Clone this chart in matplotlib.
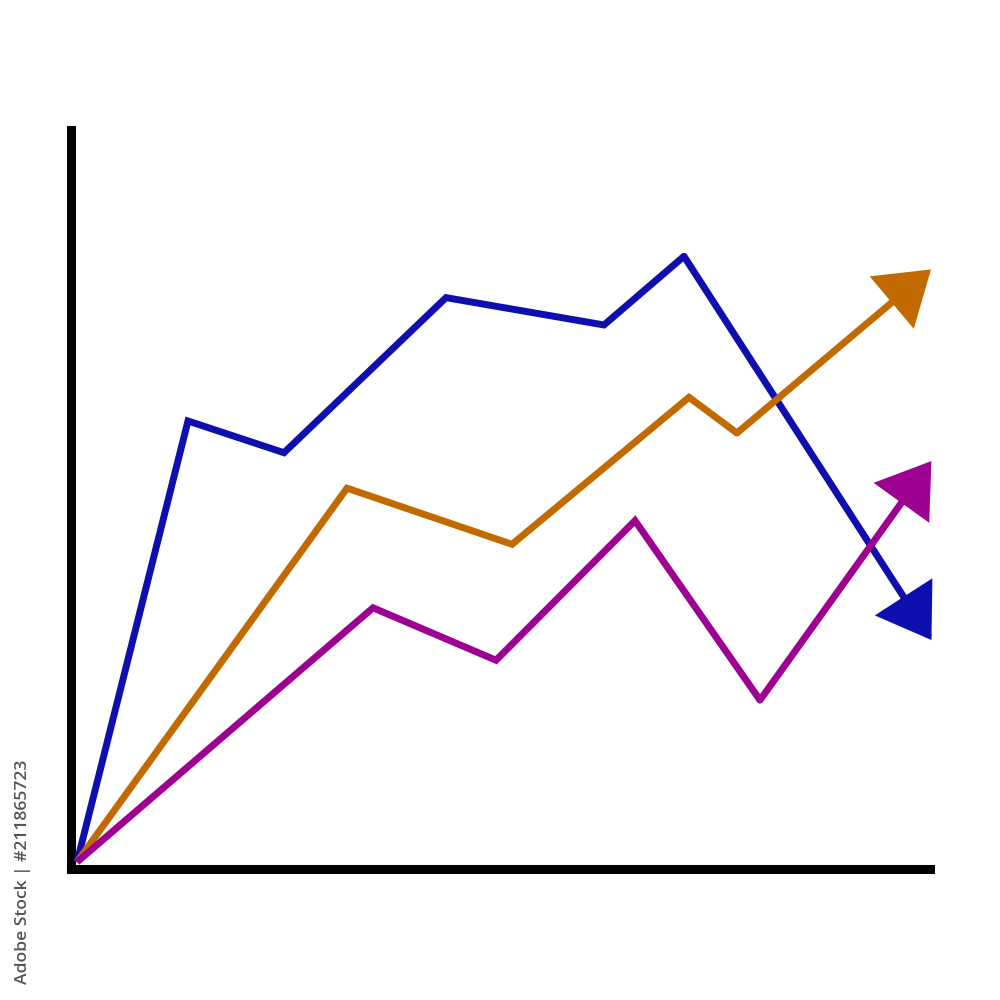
import matplotlib
matplotlib.use("Agg")
import matplotlib.pyplot as plt

# Data (x, y in chart units; last point is the arrow tip)
blue_x = [0.76, 13.67, 24.84, 43.69, 62.07, 71.38, 100.3]
blue_y = [0.88, 60.6, 56.3, 77.3, 73.6, 82.9, 30.7]
orange_x = [0.76, 32.17, 51.37, 71.96, 77.54, 100.3]
orange_y = [0.88, 51.5, 43.9, 63.8, 58.97, 81.3]
purple_x = [0.76, 35.20, 49.51, 65.68, 80.22, 100.3]
purple_y = [0.88, 35.3, 28.2, 47.1, 22.8, 55.4]

colors = {"blue": "#0F0FB0", "orange": "#C26A00", "purple": "#9E0092"}
series = [(blue_x, blue_y, colors["blue"]),
          (orange_x, orange_y, colors["orange"]),
          (purple_x, purple_y, colors["purple"])]

fig = plt.figure(figsize=(10, 10), dpi=100)
ax = fig.add_axes([0.0705, 0.1315, 0.8595, 0.7385])
ax.set_xlim(0, 100)
ax.set_ylim(0, 100)
ax.set_xticks([])
ax.set_yticks([])
for s in ["top", "right"]:
    ax.spines[s].set_visible(False)
for s in ["left", "bottom"]:
    ax.spines[s].set_linewidth(6.5)
    ax.spines[s].set_color("black")
    ax.spines[s].set_capstyle("projecting")

lw = 5.0
for xs, ys, c in series:
    ax.plot(xs[:-1], ys[:-1], color=c, lw=lw, solid_joinstyle="miter",
            solid_capstyle="butt", clip_on=False, zorder=3)
    ax.annotate("", xy=(xs[-1], ys[-1]), xytext=(xs[-2], ys[-2]),
                arrowprops=dict(arrowstyle="-|>,head_length=0.75,head_width=0.5",
                                mutation_scale=40, color=c, lw=lw,
                                shrinkA=0, shrinkB=1.5, joinstyle="miter"),
                annotation_clip=False, zorder=3)

fig.text(0.023, 0.128, "Adobe Stock | #211865723", rotation=90, ha="center",
         va="center", fontsize=12.6, weight="semibold", color="#555555",
         family=["Open Sans", "DejaVu Sans"])

fig.savefig("out.png", dpi=100, facecolor="white")
